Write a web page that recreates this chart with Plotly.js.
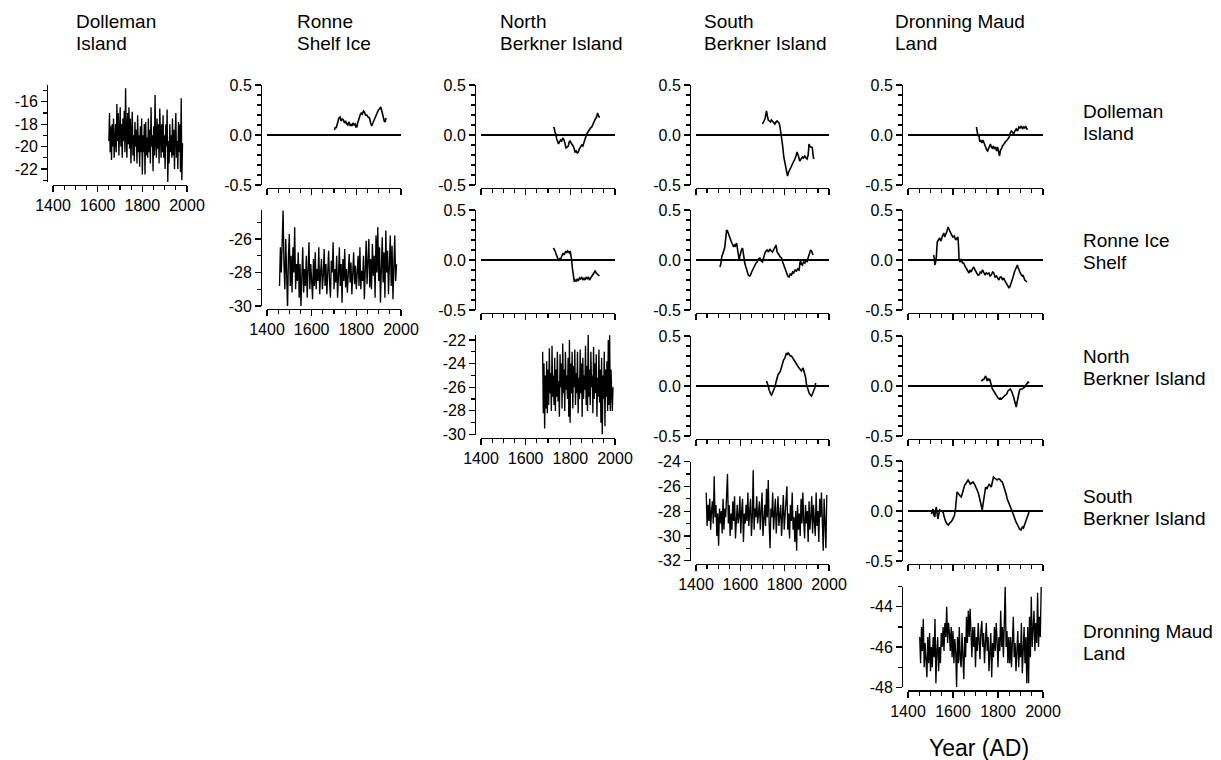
<!DOCTYPE html>
<html>
<head>
<meta charset="utf-8">
<script src="https://cdn.plot.ly/plotly-3.0.1.min.js"></script>
<style>html,body{margin:0;padding:0;background:#fff;}#chart{width:1221px;height:760px;}</style>
</head>
<body>
<div id="chart"></div>
<script>
// ---------------- DATA ----------------
const colHeaders = [['Dolleman','Island'],['Ronne','Shelf Ice'],['North','Berkner Island'],['South','Berkner Island'],['Dronning Maud','Land']];
const rowLabels  = [['Dolleman','Island'],['Ronne Ice','Shelf'],['North','Berkner Island'],['South','Berkner Island'],['Dronning Maud','Land']];
const xAxisTitle = 'Year (AD)';

const xTickVals = [1400,1600,1800,2000];
const xTickText = ['1400','1600','1800','2000'];
const corrTickVals = [-0.5,0,0.5];
const corrTickText = ['-0.5','0.0','0.5'];

const dollemanTickVals = [-22,-20,-18,-16];
const dollemanTickText = ['-22','-20','-18','-16'];
const ronneTickVals = [-30,-28,-26];
const ronneTickText = ['-30','-28','-26'];
const northBerknerTickVals = [-30,-28,-26,-24,-22];
const northBerknerTickText = ['-30','-28','-26','-24','-22'];
const southBerknerTickVals = [-32,-30,-28,-26,-24];
const southBerknerTickText = ['-32','-30','-28','-26','-24'];
const dmlTickVals = [-48,-46,-44];
const dmlTickText = ['-48','-46','-44'];

// raw isotope records (sampled every few years)
const dollemanStart = 1650, dollemanStep = 3;
const dollemanIso = [
-19.5,-17.0,-20.5,-18.2,-21.2,-18.0,-20.0,-17.5,-21.0,-19.0,
-18.0,-20.5,-16.2,-19.5,-17.0,-20.8,-18.5,-16.5,-20.0,-18.0,
-21.0,-17.5,-19.5,-16.8,-20.5,-14.8,-19.0,-21.0,-17.0,-19.8,
-16.5,-20.2,-17.5,-21.5,-18.8,-16.9,-20.8,-19.0,-21.3,-17.8,
-20.0,-18.5,-21.5,-17.2,-20.5,-19.0,-21.8,-18.2,-20.5,-17.5,
-22.5,-19.0,-20.5,-18.0,-22.5,-17.8,-20.8,-19.2,-21.0,-17.5,
-20.5,-18.5,-21.5,-16.5,-20.0,-19.0,-22.2,-18.2,-20.8,-15.4,
-19.5,-21.0,-17.5,-20.2,-18.0,-21.5,-16.6,-19.5,-21.0,-18.0,
-20.5,-17.2,-21.0,-19.0,-22.0,-18.0,-20.0,-16.7,-23.2,-19.5,
-21.5,-18.0,-20.5,-19.0,-21.0,-17.5,-20.8,-18.5,-22.0,-19.0,
-17.0,-21.0,-19.5,-22.0,-17.8,-20.5,-18.0,-22.3,-15.7,-23.0,
-19.7];

const ronneStart = 1456, ronneStep = 4;
const ronneIso = [
-28.8,-26.5,-28.0,-25.8,-24.3,-27.5,-29.0,-26.0,-28.5,-30.2,
-27.0,-25.7,-28.8,-27.0,-29.2,-26.5,-28.0,-25.3,-29.0,-27.5,
-28.5,-26.8,-29.5,-27.5,-30.0,-28.0,-26.5,-29.2,-27.8,-28.8,
-27.0,-29.5,-28.0,-26.2,-29.0,-27.5,-28.5,-29.6,-27.2,-28.8,
-26.8,-29.0,-27.8,-28.5,-26.5,-29.3,-28.0,-27.2,-29.0,-28.2,
-26.6,-28.8,-27.5,-29.3,-28.0,-26.7,-28.5,-29.5,-27.3,-28.0,
-26.2,-29.0,-27.8,-28.6,-27.0,-29.5,-28.2,-26.5,-28.8,-27.5,
-29.8,-27.2,-28.5,-26.6,-28.9,-27.8,-29.2,-28.0,-26.9,-28.6,
-27.4,-29.3,-28.1,-26.8,-28.7,-27.6,-29.0,-28.2,-27.0,-28.8,
-26.5,-29.0,-27.9,-28.5,-27.0,-29.6,-28.3,-26.1,-28.7,-27.4,
-26.0,-28.9,-27.2,-29.0,-26.3,-28.2,-27.0,-29.5,-25.8,-28.0,
-25.3,-28.5,-26.5,-29.8,-27.2,-25.9,-28.6,-26.8,-29.5,-25.5,
-28.0,-26.7,-29.3,-27.2,-25.8,-28.8,-26.4,-29.6,-27.0,-25.8,
-28.5,-27.5];

const northBerknerStart = 1676, northBerknerStep = 3;
const northBerknerIso = [
-23.0,-28.2,-24.0,-29.5,-25.0,-27.8,-23.8,-28.2,-24.5,-27.5,
-22.7,-26.5,-24.8,-28.0,-22.5,-26.8,-25.0,-27.5,-23.5,-28.0,
-24.5,-26.8,-23.0,-27.2,-25.5,-28.5,-23.2,-26.0,-24.0,-27.8,
-22.3,-26.5,-24.5,-28.0,-23.0,-26.2,-25.0,-27.0,-23.5,-28.5,
-22.0,-29.0,-24.0,-26.5,-23.0,-27.8,-24.2,-26.0,-22.8,-27.5,
-24.8,-26.5,-23.0,-28.2,-25.2,-27.0,-22.8,-26.5,-24.0,-28.5,
-23.5,-27.0,-25.0,-26.2,-22.5,-27.5,-24.2,-28.0,-21.5,-26.8,
-24.5,-27.5,-23.0,-26.0,-25.0,-28.2,-22.6,-27.0,-24.0,-26.5,
-23.2,-28.5,-25.2,-26.8,-22.8,-27.3,-24.5,-29.0,-23.5,-30.0,
-25.0,-27.0,-23.0,-29.3,-24.5,-26.8,-23.8,-28.0,-22.0,-27.5,
-21.6,-28.0,-24.5,-26.2,-28.0,-26.0];

const southBerknerStart = 1446, southBerknerStep = 4;
const southBerknerIso = [
-26.5,-29.2,-27.5,-28.8,-27.0,-29.5,-28.0,-27.2,-29.0,-25.2,
-28.5,-27.5,-30.0,-28.2,-30.8,-27.8,-29.0,-28.0,-29.8,-27.0,
-29.5,-27.8,-28.5,-26.5,-25.0,-29.0,-27.5,-30.0,-28.2,-29.5,
-27.2,-28.8,-26.8,-30.2,-28.0,-27.5,-29.0,-28.5,-26.8,-29.8,
-28.0,-27.0,-30.5,-28.2,-29.0,-27.5,-28.8,-26.5,-29.2,-28.0,
-27.0,-30.0,-28.5,-24.7,-29.5,-27.8,-28.5,-26.8,-29.0,-28.2,
-27.2,-29.5,-28.0,-26.5,-30.0,-28.5,-27.5,-29.2,-26.2,-28.5,
-25.5,-29.0,-31.0,-27.8,-28.5,-26.5,-29.5,-28.2,-27.0,-29.8,
-28.0,-26.8,-29.2,-28.5,-27.5,-30.0,-28.2,-26.7,-29.5,-28.0,
-27.2,-26.0,-29.5,-28.2,-30.2,-27.5,-28.8,-26.5,-29.5,-28.5,
-30.5,-28.0,-31.2,-27.5,-29.5,-28.2,-30.0,-27.0,-29.0,-26.5,
-28.8,-30.2,-27.5,-29.0,-28.0,-30.5,-27.2,-29.5,-28.5,-26.8,
-29.8,-27.5,-28.8,-30.0,-26.5,-29.2,-28.0,-30.5,-27.0,-28.5,
-26.5,-29.5,-31.2,-27.0,-28.8,-31.0,-26.7];

const dmlStart = 1452, dmlStep = 4;
const dmlIso = [
-45.5,-46.8,-45.0,-46.2,-44.6,-47.0,-45.8,-46.5,-47.5,-45.5,
-46.8,-45.3,-47.2,-46.0,-47.0,-45.5,-46.5,-44.6,-47.8,-46.2,
-45.5,-47.2,-46.0,-46.8,-45.3,-46.0,-45.0,-46.2,-44.8,-45.5,
-44.0,-45.8,-44.8,-45.3,-46.2,-45.0,-46.5,-45.2,-46.8,-45.6,
-46.2,-48.0,-45.5,-46.8,-45.0,-46.6,-47.0,-45.3,-46.2,-47.6,
-45.5,-46.5,-44.5,-45.8,-44.2,-45.5,-44.1,-45.8,-46.5,-45.0,
-46.0,-45.0,-47.0,-45.5,-46.2,-44.8,-45.6,-46.6,-45.2,-44.7,
-46.0,-45.3,-46.8,-45.5,-44.8,-46.2,-45.5,-47.2,-46.0,-45.3,
-47.5,-45.8,-46.5,-45.0,-46.2,-44.8,-45.7,-47.0,-45.5,-46.2,
-44.2,-46.0,-45.0,-46.5,-44.8,-43.0,-46.0,-45.2,-46.8,-45.5,
-46.8,-45.5,-47.0,-46.0,-44.5,-46.5,-45.8,-47.2,-46.0,-45.2,
-47.0,-45.8,-46.5,-44.8,-47.3,-46.0,-45.0,-46.8,-45.5,-47.8,
-45.0,-47.8,-44.5,-46.5,-43.5,-46.0,-45.0,-44.2,-46.2,-44.8,
-45.8,-43.3,-46.0,-44.5,-45.5,-43.0];

// running correlations between pairs of records
const corrDRYears = [1702,1706,1710,1714,1718,1722,1727,1732,1737,1742,1747,1752,1757,1762,1766,1769,1773,1777,1780,1785,1790,1795,1798,1802,1806,1811,1817,1822,1827,1832,1836,1841,1847,1852,1859,1864,1869,1874,1879,1884,1889,1894,1899,1904,1909,1913,1917,1921,1925,1929,1933];
const corrDR = [0.05,0.08,0.07,0.11,0.15,0.17,0.18,0.14,0.16,0.15,0.12,0.14,0.11,0.10,0.13,0.12,0.09,0.11,0.09,0.12,0.10,0.11,0.08,0.08,0.12,0.17,0.20,0.22,0.21,0.24,0.23,0.20,0.20,0.18,0.17,0.12,0.09,0.12,0.15,0.18,0.19,0.22,0.25,0.26,0.28,0.25,0.21,0.18,0.14,0.13,0.17];

const corrDNYears = [1724,1728,1731,1735,1739,1743,1747,1751,1756,1761,1766,1772,1776,1781,1786,1791,1795,1799,1804,1810,1815,1821,1826,1831,1836,1840,1845,1851,1856,1861,1867,1873,1879,1885,1890,1896,1901,1906,1912,1918,1922,1925,1929,1933];
const corrDN = [0.08,0.07,0.03,0.01,-0.04,-0.07,-0.09,-0.07,-0.05,-0.06,-0.03,-0.05,-0.10,-0.13,-0.12,-0.11,-0.07,-0.06,-0.08,-0.10,-0.12,-0.17,-0.16,-0.18,-0.17,-0.14,-0.12,-0.10,-0.11,-0.07,-0.04,0.01,0.03,0.06,0.07,0.08,0.11,0.14,0.16,0.18,0.22,0.20,0.18,0.18];

const corrDSYears = [1700,1705,1711,1715,1718,1722,1726,1731,1736,1740,1745,1750,1756,1761,1766,1770,1775,1779,1783,1786,1791,1796,1801,1805,1809,1813,1818,1823,1829,1835,1840,1846,1851,1856,1862,1868,1874,1880,1885,1891,1896,1901,1906,1910,1913,1916,1921,1925,1928,1931];
const corrDS = [0.11,0.13,0.16,0.20,0.24,0.19,0.15,0.14,0.13,0.15,0.14,0.12,0.11,0.13,0.14,0.13,0.12,0.08,0.03,-0.02,-0.11,-0.22,-0.29,-0.34,-0.38,-0.41,-0.37,-0.34,-0.32,-0.29,-0.27,-0.24,-0.21,-0.17,-0.21,-0.26,-0.24,-0.22,-0.23,-0.21,-0.23,-0.24,-0.20,-0.09,-0.11,-0.12,-0.12,-0.13,-0.20,-0.24];

const corrDDYears = [1704,1707,1711,1715,1719,1723,1728,1733,1738,1742,1746,1750,1754,1758,1762,1766,1771,1775,1779,1784,1789,1794,1798,1801,1804,1807,1811,1815,1820,1825,1830,1836,1841,1846,1850,1855,1859,1864,1870,1875,1881,1887,1893,1898,1904,1909,1914,1919,1923,1928,1933];
const corrDD = [0.08,0.03,-0.01,0.00,-0.07,-0.05,-0.08,-0.05,-0.08,-0.11,-0.13,-0.15,-0.16,-0.14,-0.12,-0.09,-0.12,-0.13,-0.11,-0.14,-0.12,-0.16,-0.12,-0.15,-0.19,-0.21,-0.15,-0.14,-0.11,-0.09,-0.08,-0.06,-0.05,-0.03,-0.02,0.02,0.04,0.03,0.01,0.04,0.06,0.04,0.08,0.07,0.09,0.06,0.08,0.07,0.09,0.06,0.06];

const corrRNYears = [1724,1728,1732,1736,1740,1744,1748,1752,1756,1760,1764,1768,1772,1776,1780,1784,1788,1792,1796,1799,1803,1806,1809,1812,1815,1818,1821,1826,1831,1836,1841,1846,1851,1856,1861,1866,1871,1876,1881,1886,1891,1896,1901,1906,1911,1916,1921,1925,1930];
const corrRN = [0.12,0.11,0.09,0.06,0.03,0.01,-0.01,0.01,0.00,0.03,0.05,0.07,0.05,0.08,0.09,0.07,0.09,0.08,0.07,0.09,0.04,0.00,-0.08,-0.15,-0.21,-0.22,-0.20,-0.21,-0.19,-0.21,-0.18,-0.19,-0.17,-0.20,-0.18,-0.20,-0.17,-0.19,-0.17,-0.20,-0.18,-0.16,-0.14,-0.13,-0.11,-0.13,-0.14,-0.15,-0.16];

const corrRSYears = [1508,1512,1516,1520,1525,1530,1534,1538,1542,1546,1550,1553,1558,1562,1566,1570,1574,1578,1583,1587,1591,1595,1598,1601,1605,1610,1613,1616,1620,1625,1630,1636,1641,1646,1651,1655,1660,1666,1671,1676,1682,1688,1694,1700,1705,1711,1716,1721,1727,1733,1739,1745,1750,1756,1761,1766,1770,1775,1780,1786,1791,1796,1802,1808,1814,1820,1825,1831,1836,1841,1847,1853,1859,1865,1868,1871,1875,1880,1885,1891,1896,1901,1907,1913,1917,1921,1925,1928];
const corrRS = [-0.07,-0.04,0.03,0.07,0.09,0.13,0.22,0.30,0.29,0.26,0.24,0.22,0.19,0.17,0.15,0.13,0.15,0.14,0.17,0.12,0.08,0.00,0.04,0.08,0.10,0.12,0.07,0.03,-0.03,-0.07,-0.12,-0.15,-0.16,-0.15,-0.12,-0.10,-0.08,-0.05,-0.03,-0.02,0.01,0.02,-0.01,-0.02,0.03,0.07,0.09,0.10,0.08,0.11,0.09,0.08,0.10,0.12,0.15,0.08,0.07,0.05,0.03,0.02,-0.02,-0.05,-0.09,-0.13,-0.16,-0.17,-0.14,-0.15,-0.12,-0.13,-0.10,-0.11,-0.09,-0.10,-0.05,0.00,-0.04,-0.05,-0.02,-0.03,0.00,-0.02,0.03,0.07,0.10,0.09,0.05,0.05];

const corrRDYears = [1514,1517,1519,1522,1526,1528,1530,1535,1541,1545,1548,1553,1559,1563,1567,1572,1578,1583,1588,1594,1600,1606,1612,1617,1622,1625,1627,1632,1637,1642,1647,1653,1659,1665,1671,1676,1681,1686,1692,1698,1704,1710,1716,1721,1726,1731,1736,1742,1748,1754,1760,1765,1770,1776,1781,1787,1793,1799,1804,1810,1815,1820,1825,1831,1837,1843,1849,1854,1859,1863,1867,1873,1879,1883,1886,1890,1893,1899,1904,1908,1911,1915,1919,1924,1929];
const corrRD = [0.05,0.02,-0.05,-0.03,0.03,0.10,0.18,0.20,0.22,0.19,0.20,0.24,0.27,0.23,0.25,0.28,0.33,0.30,0.27,0.25,0.23,0.24,0.20,0.22,0.23,0.12,0.00,-0.02,0.01,-0.03,-0.03,-0.06,-0.08,-0.11,-0.13,-0.10,-0.12,-0.09,-0.07,-0.10,-0.12,-0.15,-0.15,-0.12,-0.13,-0.10,-0.12,-0.15,-0.13,-0.14,-0.13,-0.16,-0.15,-0.12,-0.13,-0.17,-0.16,-0.19,-0.20,-0.17,-0.17,-0.20,-0.18,-0.21,-0.23,-0.25,-0.28,-0.26,-0.23,-0.20,-0.17,-0.12,-0.08,-0.06,-0.05,-0.08,-0.10,-0.13,-0.15,-0.16,-0.15,-0.18,-0.20,-0.21,-0.22];

const corrNSYears = [1718,1722,1726,1730,1733,1737,1741,1745,1748,1752,1756,1760,1765,1771,1776,1781,1786,1790,1795,1801,1805,1808,1812,1816,1820,1825,1831,1836,1841,1847,1853,1859,1865,1870,1876,1880,1883,1887,1891,1895,1898,1902,1906,1910,1913,1917,1921,1925,1928,1932,1936,1940];
const corrNS = [0.05,0.03,0.00,-0.04,-0.07,-0.08,-0.09,-0.07,-0.05,-0.03,-0.01,0.03,0.07,0.12,0.13,0.15,0.19,0.23,0.26,0.28,0.31,0.33,0.31,0.33,0.32,0.30,0.30,0.28,0.26,0.24,0.22,0.20,0.18,0.16,0.15,0.17,0.18,0.15,0.12,0.08,0.02,-0.02,-0.05,-0.07,-0.08,-0.09,-0.10,-0.08,-0.05,-0.04,-0.02,0.03];

const corrNDYears = [1726,1729,1733,1736,1740,1743,1745,1748,1752,1756,1760,1763,1767,1770,1775,1781,1786,1790,1795,1800,1805,1810,1816,1822,1828,1834,1839,1844,1849,1855,1860,1864,1868,1871,1874,1878,1881,1884,1887,1890,1893,1896,1901,1908,1913,1919,1924,1929,1934,1938];
const corrND = [0.06,0.05,0.07,0.06,0.08,0.09,0.10,0.08,0.05,0.07,0.06,0.07,0.03,0.00,-0.03,-0.05,-0.07,-0.08,-0.10,-0.12,-0.13,-0.12,-0.13,-0.11,-0.10,-0.09,-0.08,-0.05,-0.04,-0.03,-0.05,-0.07,-0.09,-0.12,-0.15,-0.18,-0.21,-0.17,-0.13,-0.09,-0.05,-0.04,-0.03,-0.03,-0.02,-0.01,0.01,0.02,0.04,0.03];

const corrSDYears = [1504,1507,1511,1515,1519,1522,1526,1529,1533,1537,1541,1548,1556,1560,1563,1568,1573,1579,1585,1591,1597,1602,1607,1611,1615,1618,1622,1627,1632,1637,1641,1644,1648,1652,1656,1661,1667,1672,1677,1683,1689,1695,1701,1706,1711,1716,1721,1726,1730,1733,1736,1740,1745,1750,1756,1761,1766,1770,1775,1780,1785,1790,1796,1801,1807,1813,1819,1825,1830,1836,1841,1847,1853,1858,1864,1869,1874,1880,1885,1890,1896,1902,1908,1913,1919,1924,1929,1934,1938];
const corrSD = [-0.03,-0.01,0.02,-0.04,-0.06,0.00,0.04,-0.02,-0.08,-0.03,0.01,0.00,-0.01,-0.05,-0.08,-0.11,-0.13,-0.14,-0.12,-0.11,-0.09,-0.07,-0.04,0.02,0.11,0.19,0.18,0.16,0.15,0.14,0.17,0.21,0.23,0.26,0.27,0.29,0.31,0.29,0.27,0.28,0.29,0.27,0.24,0.22,0.19,0.15,0.09,0.04,0.01,0.06,0.11,0.18,0.24,0.22,0.26,0.27,0.25,0.24,0.29,0.34,0.33,0.32,0.31,0.32,0.32,0.30,0.29,0.25,0.22,0.17,0.12,0.09,0.06,0.03,-0.01,-0.04,-0.08,-0.11,-0.13,-0.16,-0.18,-0.19,-0.16,-0.17,-0.13,-0.10,-0.06,-0.03,-0.01];

// ---------------- LAYOUT / BUILD ----------------
const W = 1221, H = 760;
const FONT = 'Liberation Sans, Arial, Helvetica, sans-serif';
function sampleYears(start, step, n){ const a=[]; for(let i=0;i<n;i++) a.push(start+i*step); return a; }

const colPx = [[53,187],[267,401],[481,615],[696,829],[908,1043]];
const rowPx = [[85,185],[210,310],[336,436],[461,561],[587,687]];

const panels = [
  {r:0,c:0,raw:true, x:sampleYears(dollemanStart,dollemanStep,dollemanIso.length), y:dollemanIso, tv:dollemanTickVals, tt:dollemanTickText, range:[-23.16,-14.51], py:[85,182]},
  {r:1,c:1,raw:true, x:sampleYears(ronneStart,ronneStep,ronneIso.length), y:ronneIso, tv:ronneTickVals, tt:ronneTickText, range:[-30,-24.27], py:[210,306]},
  {r:2,c:2,raw:true, x:sampleYears(northBerknerStart,northBerknerStep,northBerknerIso.length), y:northBerknerIso, tv:northBerknerTickVals, tt:northBerknerTickText, range:[-30,-21.58], py:[335,434.5]},
  {r:3,c:3,raw:true, x:sampleYears(southBerknerStart,southBerknerStep,southBerknerIso.length), y:southBerknerIso, tv:southBerknerTickVals, tt:southBerknerTickText, range:[-32,-24], py:[461.5,560.7]},
  {r:4,c:4,raw:true, x:sampleYears(dmlStart,dmlStep,dmlIso.length), y:dmlIso, tv:dmlTickVals, tt:dmlTickText, range:[-48,-43], py:[586.7,687.3]},
  {r:0,c:1,x:corrDRYears,y:corrDR},
  {r:0,c:2,x:corrDNYears,y:corrDN},
  {r:0,c:3,x:corrDSYears,y:corrDS},
  {r:0,c:4,x:corrDDYears,y:corrDD},
  {r:1,c:2,x:corrRNYears,y:corrRN},
  {r:1,c:3,x:corrRSYears,y:corrRS},
  {r:1,c:4,x:corrRDYears,y:corrRD},
  {r:2,c:3,x:corrNSYears,y:corrNS},
  {r:2,c:4,x:corrNDYears,y:corrND},
  {r:3,c:4,x:corrSDYears,y:corrSD}
];

const traces = [];
const layout = {
  width: W, height: H,
  margin: {l:0, r:0, t:0, b:0, pad:0},
  paper_bgcolor: '#fff', plot_bgcolor: 'rgba(0,0,0,0)',
  showlegend: false,
  font: {family: FONT, color: '#000', size: 16},
  annotations: []
};

panels.forEach((p, i) => {
  const n = i + 1;
  const xk = 'xaxis' + (n === 1 ? '' : n), yk = 'yaxis' + (n === 1 ? '' : n);
  const xr = 'x' + (n === 1 ? '' : n), yr = 'y' + (n === 1 ? '' : n);
  const cx = colPx[p.c];
  const ry = p.raw ? p.py : rowPx[p.r];
  traces.push({
    type: 'scatter', mode: 'lines', x: p.x, y: p.y, xaxis: xr, yaxis: yr,
    line: {color: '#000', width: p.raw ? 1.35 : 1.6}, hoverinfo: 'skip'
  });
  layout[xk] = {
    domain: [cx[0]/W, cx[1]/W], range: [1400, 2000], anchor: 'free', position: 1 - (ry[1] + 3)/H,
    showline: true, linecolor: '#000', linewidth: 1.2, mirror: false,
    ticks: 'outside', ticklen: 6, tickwidth: 1.2, tickcolor: '#000',
    tickmode: 'array', tickvals: xTickVals, ticktext: xTickText,
    showticklabels: !!p.raw, tickfont: {family: FONT, size: 16, color: '#000'},
    minor: {tickmode: 'linear', tick0: 1400, dtick: 50, ticks: 'outside', ticklen: 4, tickwidth: 1.2, tickcolor: '#000', showgrid: false},
    showgrid: false, zeroline: false, fixedrange: true
  };
  layout[yk] = {
    domain: [1 - ry[1]/H, 1 - ry[0]/H], range: p.raw ? p.range : [-0.5, 0.5],
    anchor: 'free', position: (cx[0] - 6)/W,
    showline: true, linecolor: '#000', linewidth: 1.2,
    ticks: 'outside', ticklen: 6, tickwidth: 1.2, tickcolor: '#000',
    tickmode: 'array', tickvals: p.raw ? p.tv : corrTickVals, ticktext: p.raw ? p.tt : corrTickText,
    tickfont: {family: FONT, size: 16, color: '#000'},
    minor: {tickmode: 'linear', tick0: 0, dtick: p.raw ? 1 : 0.1, ticks: 'outside', ticklen: 4, tickwidth: 1.2, tickcolor: '#000', showgrid: false},
    showgrid: false, zeroline: !p.raw, zerolinecolor: '#000', zerolinewidth: 1.5, fixedrange: true
  };
});

function addText(txt, px, py, size, anchor){
  layout.annotations.push({
    text: txt, xref: 'paper', yref: 'paper', x: px/W, y: 1 - py/H,
    xanchor: anchor || 'left', yanchor: 'middle', showarrow: false,
    font: {family: FONT, size: size, color: '#000'}
  });
}
const headerX = [74, 295, 498, 702, 893];
colHeaders.forEach((lines, i) => { addText(lines[0], headerX[i], 22, 19); addText(lines[1], headerX[i], 44, 19); });
const rowLabelY = [111, 240, 356, 496, 631];
rowLabels.forEach((lines, i) => { addText(lines[0], 1081, rowLabelY[i], 19); addText(lines[1], 1081, rowLabelY[i] + 22, 19); });
addText(xAxisTitle, 979, 748, 23, 'center');

Plotly.newPlot('chart', traces, layout, {staticPlot: true, displayModeBar: false});
</script>
</body>
</html>
